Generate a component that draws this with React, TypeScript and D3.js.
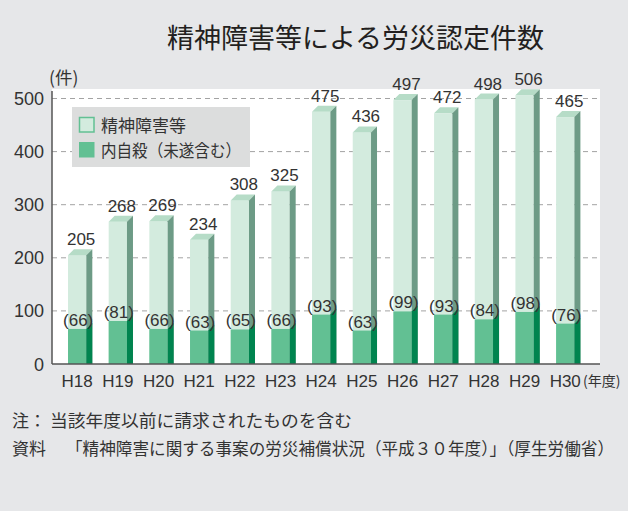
import React from "react";
import * as d3 from "d3";

const categories = ["H18", "H19", "H20", "H21", "H22", "H23", "H24", "H25", "H26", "H27", "H28", "H29", "H30"];
const totals = [205, 268, 269, 234, 308, 325, 475, 436, 497, 472, 498, 506, 465];
const suicides = [66, 81, 66, 63, 65, 66, 93, 63, 99, 93, 84, 98, 76];
const yTicks = [0, 100, 200, 300, 400, 500];
const gridTicks = [100, 200, 300, 400, 500];
const legendLabels = ["精神障害等", "内自殺（未遂含む）"];
const title = "精神障害等による労災認定件数";
const unitLabel = "(件)";
const xUnitLabel = "(年度)";
const noteHead = "注：";
const noteBody = "当該年度以前に請求されたものを含む";
const sourceHead = "資料";
const sourceBody = "「精神障害に関する事案の労災補償状況（平成３０年度）」（厚生労働省）";

const W = 628;
const H = 511;
const JP = "'Noto Sans CJK JP', 'Noto Sans', sans-serif";
const NUM = "'Liberation Sans Narrow', 'Liberation Sans', Arial, sans-serif";

const plot = { left: 52, right: 600, top: 89, bottom: 364 };

const C = {
  bg: "#e6e7e9",
  lightFront: "#d3ebde",
  lightTop: "#b6dcc7",
  lightSide: "#6d9b86",
  darkFront: "#62c093",
  darkSide: "#00844f",
  grid: "#a3a3a3",
  axis: "#555555",
  text: "#333333",
  legendBg: "#dcdddd",
};

export default function App() {
  const y = d3.scaleLinear().domain([0, 500]).range([364, 98.5]);
  const x = d3.scaleBand<string>().domain(categories).range([68, 574.4]).paddingInner(0.55).paddingOuter(0);
  const w = x.bandwidth();
  const dx = 6;
  const dy = 6;
  const y0 = y(0);

  return (
    <svg width={W} height={H} style={{ position: "absolute", left: 0, top: 0, display: "block" }}>
      <rect x={0} y={0} width={W} height={H} fill={C.bg} />
      <text x={355.5} y={47.5} textAnchor="middle" fontFamily={JP} fontSize={27} fill="#231f20" fontWeight={400}>
        {title}
      </text>
      <rect x={plot.left} y={plot.top} width={plot.right - plot.left} height={plot.bottom - plot.top} fill="#ffffff" />
      {gridTicks.map((t) => (
        <line key={t} x1={plot.left} x2={plot.right} y1={y(t)} y2={y(t)} stroke={C.grid} strokeWidth={1} strokeDasharray="5,4" />
      ))}
      {categories.map((c, i) => {
        const bx = x(c)!;
        const yT = y(totals[i]);
        const yS = y(suicides[i]);
        const top = `${bx},${yT} ${bx + dx},${yT - dy} ${bx + w + dx},${yT - dy} ${bx + w},${yT}`;
        const side = `${bx + w},${yT} ${bx + w + dx},${yT - dy} ${bx + w + dx},${y0} ${bx + w},${y0}`;
        const sideS = `${bx + w},${yS} ${bx + w + dx},${yS - dy} ${bx + w + dx},${y0} ${bx + w},${y0}`;
        return (
          <g key={c}>
            <rect x={bx} y={yT} width={w} height={y0 - yT} fill={C.lightFront} />
            <polygon points={top} fill={C.lightTop} />
            <polygon points={side} fill={C.lightSide} />
            <rect x={bx} y={yS} width={w} height={y0 - yS} fill={C.darkFront} />
            <polygon points={sideS} fill={C.darkSide} />
            <text x={bx + w / 2 + 4} y={yT - dy - 4} textAnchor="middle" fontFamily={NUM} fontSize={17} fill={C.text}>
              {totals[i]}
            </text>
            <text x={bx + w / 2 + 1} y={yS - 3} textAnchor="middle" fontFamily={NUM} fontSize={17} fill={C.text}>
              {`(${suicides[i]})`}
            </text>
            <text x={bx + w / 2} y={387} textAnchor="middle" fontFamily={NUM} fontSize={17} fill={C.text}>
              {c}
            </text>
          </g>
        );
      })}
      <text x={583} y={386} fontFamily={JP} fontSize={14} fill={C.text}>
        {xUnitLabel}
      </text>
      <line x1={plot.left} x2={plot.left} y1={91} y2={y0} stroke={C.axis} strokeWidth={1.5} />
      <line x1={plot.left} x2={plot.right} y1={y0} y2={y0} stroke={C.axis} strokeWidth={1.5} />
      {yTicks.map((t) => (
        <text key={t} x={44} y={y(t) + 6.5} textAnchor="end" fontFamily={NUM} fontSize={18} fill={C.text}>
          {t}
        </text>
      ))}
      <text x={49} y={84} fontFamily={JP} fontSize={17.5} fill={C.text}>
        {unitLabel}
      </text>
      <rect x={72} y={107} width={178} height={60} fill={C.legendBg} />
      <rect x={79.5} y={117.5} width={14.5} height={14.5} fill={C.lightFront} stroke={C.darkFront} strokeWidth={1.5} />
      <rect x={79} y={142} width={15.5} height={15.5} fill={C.darkFront} />
      <text x={101} y={131.5} fontFamily={JP} fontSize={17} fill={C.text}>
        {legendLabels[0]}
      </text>
      <text x={101} y={156.5} fontFamily={JP} fontSize={17} fill={C.text} textLength={140} lengthAdjust="spacingAndGlyphs">
        {legendLabels[1]}
      </text>
      <text x={12} y={427} fontFamily={JP} fontSize={17} fill={C.text}>
        {noteHead}
      </text>
      <text x={50} y={427} fontFamily={JP} fontSize={17} fill={C.text} textLength={302} lengthAdjust="spacingAndGlyphs">
        {noteBody}
      </text>
      <text x={12} y={455} fontFamily={JP} fontSize={17} fill={C.text}>
        {sourceHead}
      </text>
      <text x={66} y={455} fontFamily={JP} fontSize={17} fill={C.text} textLength={548} lengthAdjust="spacingAndGlyphs">
        {sourceBody}
      </text>
    </svg>
  );
}
